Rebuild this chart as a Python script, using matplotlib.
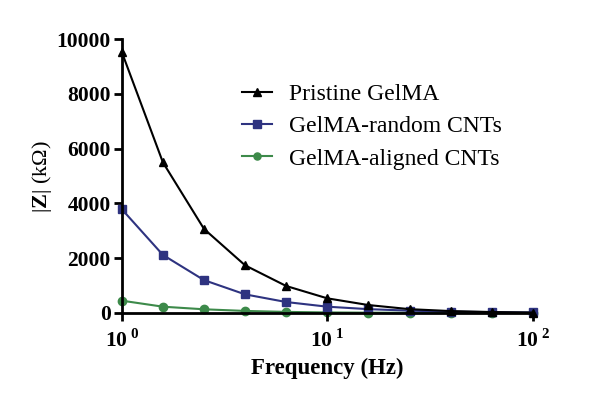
import matplotlib
matplotlib.use('Agg')
import matplotlib.pyplot as plt
import numpy as np

plt.rcParams['font.family'] = ['Liberation Serif', 'DejaVu Serif']
plt.rcParams['mathtext.fontset'] = 'custom'
plt.rcParams['mathtext.rm'] = 'Liberation Serif:bold'
plt.rcParams['mathtext.bf'] = 'Liberation Serif:bold'

# Data
freq = [1, 1.585, 2.512, 3.981, 6.310, 10, 15.85, 25.12, 39.81, 63.10, 100]
pristine = [9530, 5500, 3070, 1740, 985, 535, 290, 140, 70, 35, 15]
random_cnt = [3790, 2120, 1200, 680, 400, 230, 140, 85, 50, 30, 20]
aligned_cnt = [450, 230, 135, 75, 40, 20, 12, 8, 5, 3, 2]
labels = ['Pristine GelMA', 'GelMA-random CNTs', 'GelMA-aligned CNTs']
yticks = [0, 2000, 4000, 6000, 8000, 10000]
xticks = [1, 10, 100]
xticklabels = ['10$\\,^{0}$', '10$\\,^{1}$', '10$\\,^{2}$']

fig = plt.figure(figsize=(6, 3.98), dpi=100)
ax = fig.add_axes([0.203, 0.2136, 0.685, 0.688])

ax.plot(freq, pristine, '-^', color='black', lw=1.5, ms=6, label=labels[0], zorder=3)
ax.plot(freq, random_cnt, '-s', color='#2e3380', lw=1.5, ms=6, label=labels[1], zorder=2)
ax.plot(freq, aligned_cnt, '-o', color='#3d8a4a', lw=1.5, ms=6, label=labels[2], zorder=1)

ax.set_xscale('log')
ax.set_xlim(1, 100)
ax.set_ylim(0, 10000)
ax.set_xticks(xticks)
ax.set_xticklabels(xticklabels)
ax.minorticks_off()
ax.set_yticks(yticks)

for s in ['top', 'right']:
    ax.spines[s].set_visible(False)
for s in ['left', 'bottom']:
    ax.spines[s].set_linewidth(2)
ax.tick_params(axis='both', width=2, length=6, direction='out', labelsize=15.5, pad=2)
for t in ax.get_yticklabels() + ax.get_xticklabels():
    t.set_fontweight('bold')
ax.tick_params(axis='x', pad=6)

ax.set_xlabel('Frequency (Hz)', fontsize=16.5, fontweight='bold', labelpad=4)
ax.set_ylabel('|$\\mathbf{Z}$| (kΩ)', fontsize=16, labelpad=2)

ax.legend(loc='upper left', bbox_to_anchor=(0.24, 0.915), frameon=False,
          fontsize=17, handlelength=1.3, labelspacing=0.45, handletextpad=0.7,
          markerscale=0.85)

ax.patch.set_visible(False)
for ln in ax.lines:
    ln.set_clip_on(False)

fig.savefig('out.png', dpi=100, facecolor='white')
